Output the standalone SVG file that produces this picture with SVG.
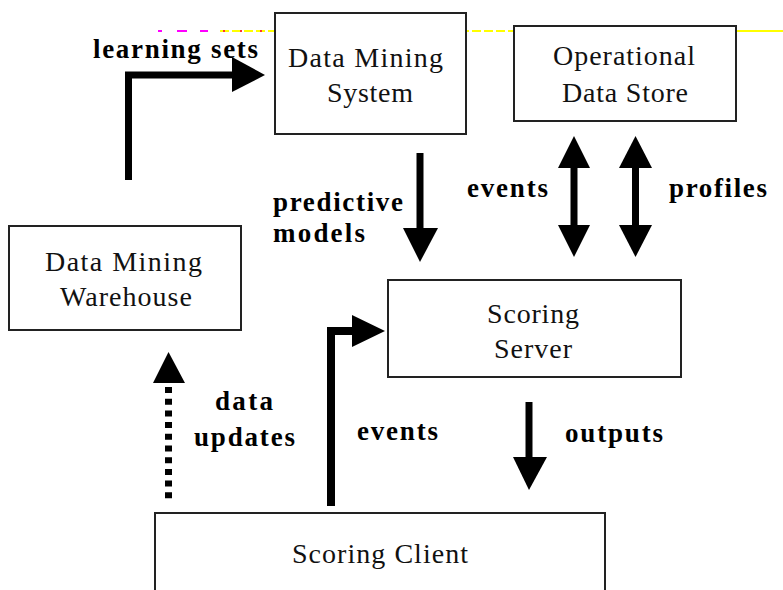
<svg xmlns="http://www.w3.org/2000/svg" width="783" height="590" viewBox="0 0 783 590">
<style>
.box{fill:#fff;stroke:#222;stroke-width:2}
.t{font-family:"Liberation Serif","Times New Roman",serif;font-size:28px;fill:#111;text-anchor:start}
.b{font-family:"Liberation Serif","Times New Roman",serif;font-size:27px;font-weight:bold;fill:#000}
.shaft{fill:none;stroke:#000;stroke-width:7;stroke-linejoin:miter}
.head{fill:#000}
</style>
<rect width="783" height="590" fill="#fff"/>
<g id="top-line">
<path d="M158,31 H162 M177,31 H187 M200,31 H208" stroke="#f0f" stroke-width="2"/>
<path d="M220,31 H737" stroke="#ff0" stroke-width="2" stroke-dasharray="9 3"/>
<path d="M737,31 H783" stroke="#ff0" stroke-width="2"/>
<path d="M223,31 h2 M240,31 h2 M260,31 h2 M354,31 h2 M415,31 h2 M674,31 h2 M720,31 h2" stroke="#f33" stroke-width="2"/>
</g>
<g id="connectors">
<path class="shaft" d="M128.5,180 V75 H234"/>
<polygon class="head" points="232,57 265,75 232,92"/>
<path class="shaft" d="M420,153 V230"/>
<polygon class="head" points="403,228 438,228 420,262"/>
<path class="shaft" d="M574,166 V227"/>
<polygon class="head" points="558,168 590,168 574,136"/>
<polygon class="head" points="558,225 590,225 574,257"/>
<path class="shaft" d="M635.5,166 V227"/>
<polygon class="head" points="619,168 652,168 635.5,136"/>
<polygon class="head" points="619,225 652,225 635.5,257"/>
<path class="shaft" d="M331,506 V331 H354" style="stroke-width:8"/>
<polygon class="head" points="352,315 385,331 352,347"/>
<path class="shaft" d="M529,402 V459"/>
<polygon class="head" points="513,457 547,457 529,490"/>
<path class="shaft" d="M168.5,387 V500" style="stroke-dasharray:6 5.7"/>
<polygon class="head" points="153,383 185,383 168.5,352"/>
</g>
<g id="labels">
<text class="b" x="93" y="58" textLength="165" lengthAdjust="spacing">learning sets</text>
<text class="b" x="273" y="211" textLength="130" lengthAdjust="spacing">predictive</text>
<text class="b" x="273" y="242" textLength="92" lengthAdjust="spacing">models</text>
<text class="b" x="467" y="197" textLength="81" lengthAdjust="spacing">events</text>
<text class="b" x="669" y="197" textLength="98" lengthAdjust="spacing">profiles</text>
<text class="b" x="215" y="410" textLength="58" lengthAdjust="spacing">data</text>
<text class="b" x="194" y="446" textLength="101" lengthAdjust="spacing">updates</text>
<text class="b" x="357" y="440" textLength="81" lengthAdjust="spacing">events</text>
<text class="b" x="565" y="442" textLength="98" lengthAdjust="spacing">outputs</text>
</g>
<g id="data-mining-system">
<rect class="box" x="275" y="13" width="191" height="121"/>
<text class="t" x="288" y="67" textLength="155" lengthAdjust="spacing">Data Mining</text>
<text class="t" x="327" y="102" textLength="86" lengthAdjust="spacing">System</text>
</g>
<g id="operational-data-store">
<rect class="box" x="514" y="26" width="222" height="95"/>
<text class="t" x="553" y="65" textLength="142" lengthAdjust="spacing">Operational</text>
<text class="t" x="562" y="102" textLength="126" lengthAdjust="spacing">Data Store</text>
</g>
<g id="data-mining-warehouse">
<rect class="box" x="9" y="226" width="232" height="104"/>
<text class="t" x="45" y="271" textLength="157" lengthAdjust="spacing">Data Mining</text>
<text class="t" x="60" y="306" textLength="132" lengthAdjust="spacing">Warehouse</text>
</g>
<g id="scoring-server">
<rect class="box" x="388" y="280" width="293" height="97"/>
<text class="t" x="487" y="323" textLength="92" lengthAdjust="spacing">Scoring</text>
<text class="t" x="494" y="358" textLength="78" lengthAdjust="spacing">Server</text>
</g>
<g id="scoring-client">
<rect class="box" x="155" y="513" width="450" height="90"/>
<text class="t" x="292" y="563" textLength="176" lengthAdjust="spacing">Scoring Client</text>
</g>
</svg>
